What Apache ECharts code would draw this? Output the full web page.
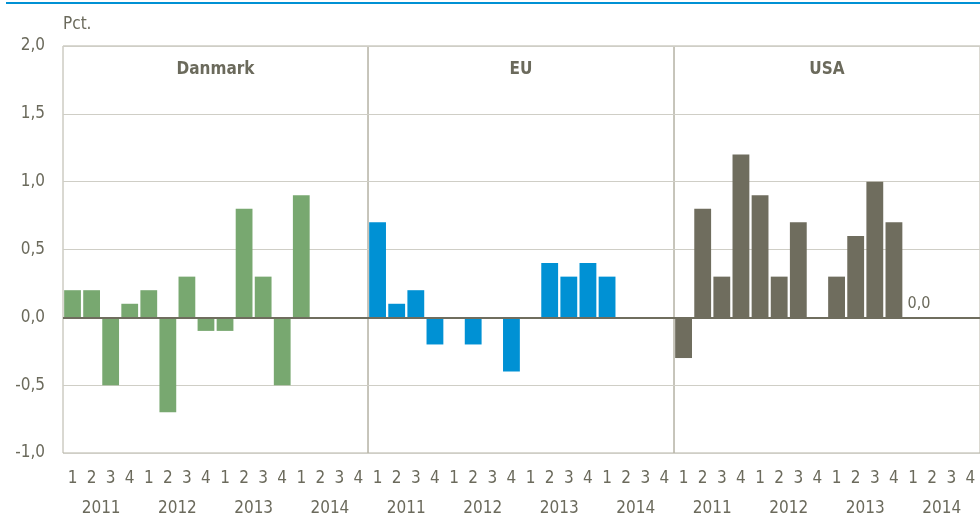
<!DOCTYPE html>
<html>
<head>
<meta charset="utf-8">
<script src="https://cdn.jsdelivr.net/npm/echarts@6/dist/echarts.min.js"></script>
<style>
  html, body { margin: 0; padding: 0; background: #fff; }
  #chart { width: 980px; height: 517px; }
</style>
</head>
<body>
<div id="chart"></div>
<script>
const panels = ['Danmark', 'EU', 'USA'];
const quarters = ['1', '2', '3', '4', '1', '2', '3', '4', '1', '2', '3', '4', '1', '2', '3', '4'];
const years = ['2011', '2012', '2013', '2014'];
const danmark = [0.2, 0.2, -0.5, 0.1, 0.2, -0.7, 0.3, -0.1, -0.1, 0.8, 0.3, -0.5, 0.9, null, null, null];
const eu = [0.7, 0.1, 0.2, -0.2, 0.0, -0.2, 0.0, -0.4, 0.0, 0.4, 0.3, 0.4, 0.3, null, null, null];
const usa = [-0.3, 0.8, 0.3, 1.2, 0.9, 0.3, 0.7, 0.0, 0.3, 0.6, 1.0, 0.7, 0.0, null, null, null];
const yTicks = [-1, 2, 0.5];

const FONT = "'Liberation Sans Narrow', 'DejaVu Sans Condensed', 'Roboto', sans-serif";
const TXT = '#6b6a5c';
const colors = ['#78a870', '#0091d4', '#6f6d5e'];
const seriesData = [danmark, eu, usa];

const chart = echarts.init(document.getElementById('chart'));

const gridLefts = [63, 368, 674];
const gridWidths = [305, 306, 306];
const grid = gridLefts.map((l, i) => ({
  left: l, width: gridWidths[i], top: 46, height: 407,
  outerBoundsMode: 'none', containLabel: false,
  show: true, borderColor: '#b4b2a4', borderWidth: 1
}));

const xAxis = [];
const yAxis = [];
const series = [];
panels.forEach((p, i) => {
  xAxis.push({
    type: 'category', gridIndex: i, data: quarters,
    axisLine: { show: false }, axisTick: { show: false },
    axisLabel: { color: TXT, fontFamily: FONT, fontSize: 17, margin: 17, interval: 0 }
  });
  xAxis.push({
    type: 'category', gridIndex: i, data: years, position: 'bottom', offset: 30,
    axisLine: { show: false }, axisTick: { show: false },
    axisLabel: { color: TXT, fontFamily: FONT, fontSize: 17, margin: 17, interval: 0 }
  });
  yAxis.push({
    type: 'value', gridIndex: i, min: yTicks[0], max: yTicks[1], interval: yTicks[2],
    axisLine: { show: false }, axisTick: { show: false },
    splitLine: { lineStyle: { color: '#cfcec6', width: 1 } },
    axisLabel: {
      show: i === 0, color: TXT, fontFamily: FONT, fontSize: 17, margin: 18,
      formatter: v => v.toFixed(1).replace('.', ',')
    }
  });
  series.push({
    type: 'bar', xAxisIndex: i * 2, yAxisIndex: i,
    data: seriesData[i].map((v, k) => (i === 2 && k === 12) ? {
      value: v,
      label: {
        show: true, position: 'top', offset: [6, 0], color: TXT, fontFamily: FONT, fontSize: 16,
        formatter: d => d.value.toFixed(1).replace('.', ',')
      }
    } : v),
    barCategoryGap: '12%',
    itemStyle: { color: colors[i] },
    markLine: {
      silent: true, symbol: 'none', label: { show: false },
      lineStyle: { color: '#6f6d5e', width: 2, type: 'solid' },
      data: [{ yAxis: 0 }]
    }
  });
});

const graphic = [
  { type: 'rect', left: 6, top: 2, shape: { width: 974, height: 2 }, style: { fill: '#0091d4' } },
  { type: 'text', left: 63, top: 16, style: { text: 'Pct.', fill: TXT, font: '17px ' + FONT } }
];
panels.forEach((p, i) => {
  graphic.push({
    type: 'text', x: gridLefts[i] + gridWidths[i] / 2, y: 70,
    style: { text: p, fill: TXT, font: 'bold 17px ' + FONT, align: 'center', verticalAlign: 'middle' }
  });
});

chart.setOption({
  animation: false,
  grid, xAxis, yAxis, series, graphic
});
</script>
</body>
</html>
